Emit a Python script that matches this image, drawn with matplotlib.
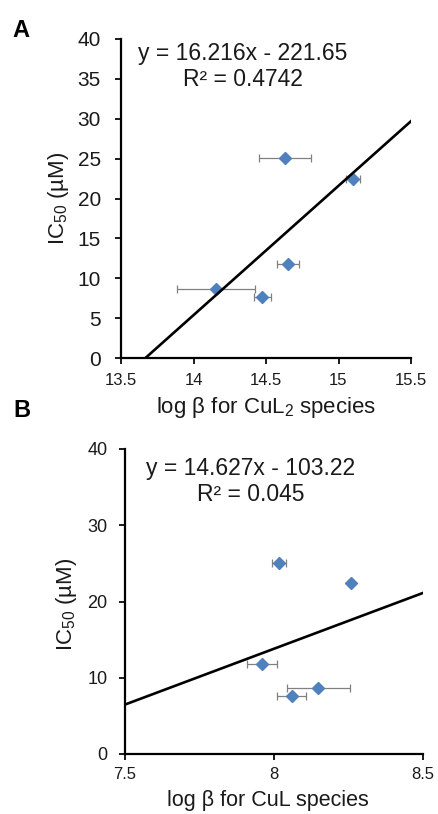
import matplotlib
matplotlib.use("Agg")
import matplotlib.pyplot as plt
import numpy as np

plt.rcParams['font.family'] = ['Liberation Sans', 'DejaVu Sans']
plt.rcParams['mathtext.fontset'] = 'custom'
plt.rcParams['mathtext.rm'] = 'Liberation Sans'
plt.rcParams['mathtext.it'] = 'Liberation Sans:italic'
plt.rcParams['mathtext.default'] = 'regular'

# IC50 values (uM), shared by both panels
ic50 = [25.1, 22.4, 11.8, 8.7, 7.6]

# Panel A: log beta for CuL2 species
logb_cul2 = [14.63, 15.10, 14.65, 14.155, 14.475]
logb_cul2_err = [0.18, 0.045, 0.075, 0.27, 0.06]
fit_a = [16.216, -221.65]
r2_a = 0.4742

# Panel B: log beta for CuL species
logb_cul = [8.018, 8.259, 7.961, 8.149, 8.06]
logb_cul_err = [0.024, 0.008, 0.05, 0.106, 0.049]
fit_b = [14.627, -103.22]
r2_b = 0.045

W, H = 439, 814
fig = plt.figure(figsize=(W / 100, H / 100), dpi=100)

blue = '#4F81BD'
grey = '#808080'
ink = '#1a1a1a'


def px_axes(left, top, right, bottom):
    return fig.add_axes([left / W, 1 - bottom / H, (right - left) / W, (bottom - top) / H])


def setup(ax, x, xerr, fit, r2, xlim, xticks, yticks, xlabel, xlabel_size, ytick_size, xtick_size,
          xpad, ypad, ylab_pos, xlab_pos, eq_pos):
    ax.errorbar(x, ic50, xerr=xerr, fmt='none', ecolor=grey, elinewidth=0.9,
                capsize=3.2, capthick=0.9, zorder=2)
    ax.plot(x, ic50, linestyle='none', marker='D', markersize=6.6, color=blue, zorder=3)

    xs = np.linspace(xlim[0], xlim[1], 200)
    ax.plot(xs, fit[0] * xs + fit[1], color='black', linewidth=1.9, zorder=4, clip_on=True)

    ax.set_xlim(*xlim)
    ax.set_ylim(0, 40)
    ax.set_xticks(xticks)
    ax.set_xticklabels(['%g' % t for t in xticks])
    ax.set_yticks(yticks)

    for s in ['top', 'right']:
        ax.spines[s].set_visible(False)
    for s in ['left', 'bottom']:
        ax.spines[s].set_linewidth(1.6)
    ax.tick_params(axis='both', direction='out', length=4.5, width=1.4)
    ax.tick_params(axis='x', labelsize=xtick_size, pad=xpad, colors=ink, labelcolor=ink)
    ax.tick_params(axis='y', labelsize=ytick_size, pad=ypad, colors=ink, labelcolor=ink)

    ax.set_ylabel('IC$_{50}$ (µM)', fontsize=16, va='center', color=ink)
    ax.yaxis.set_label_coords(*ylab_pos)
    ax.set_xlabel(xlabel, fontsize=xlabel_size, va='center', color=ink)
    ax.xaxis.set_label_coords(*xlab_pos)

    ax.text(eq_pos[0], eq_pos[1],
            'y = %.3fx - %.2f\nR² = %s' % (fit[0], -fit[1], r2),
            transform=ax.transAxes, ha='center', va='center', multialignment='center',
            fontsize=16.5, linespacing=1.15, color=ink)


ax_a = px_axes(121, 39, 411, 358)
setup(ax_a, logb_cul2, logb_cul2_err, fit_a, r2_a, (13.5, 15.5),
      [13.5, 14, 14.5, 15, 15.5], np.arange(0, 41, 5), 'log β for CuL$_2$ species', 16,
      15, 12, 6, 10, (-0.217, 0.5), (0.5, -0.154), (0.419, 0.914))

ax_b = px_axes(125, 449, 422.7, 754)
setup(ax_b, logb_cul, logb_cul_err, fit_b, r2_b, (7.5, 8.5),
      [7.5, 8, 8.5], np.arange(0, 41, 10), 'log β for CuL species', 15.5,
      13, 12, 5, 8, (-0.196, 0.49), (0.48, -0.151), (0.4216, 0.893))

fig.text(12 / W, 1 - 37 / H, 'A', fontsize=17, fontweight='bold', va='baseline')
fig.text(13 / W, 1 - 417 / H, 'B', fontsize=17, fontweight='bold', va='baseline')

fig.savefig('out.png', dpi=100)
